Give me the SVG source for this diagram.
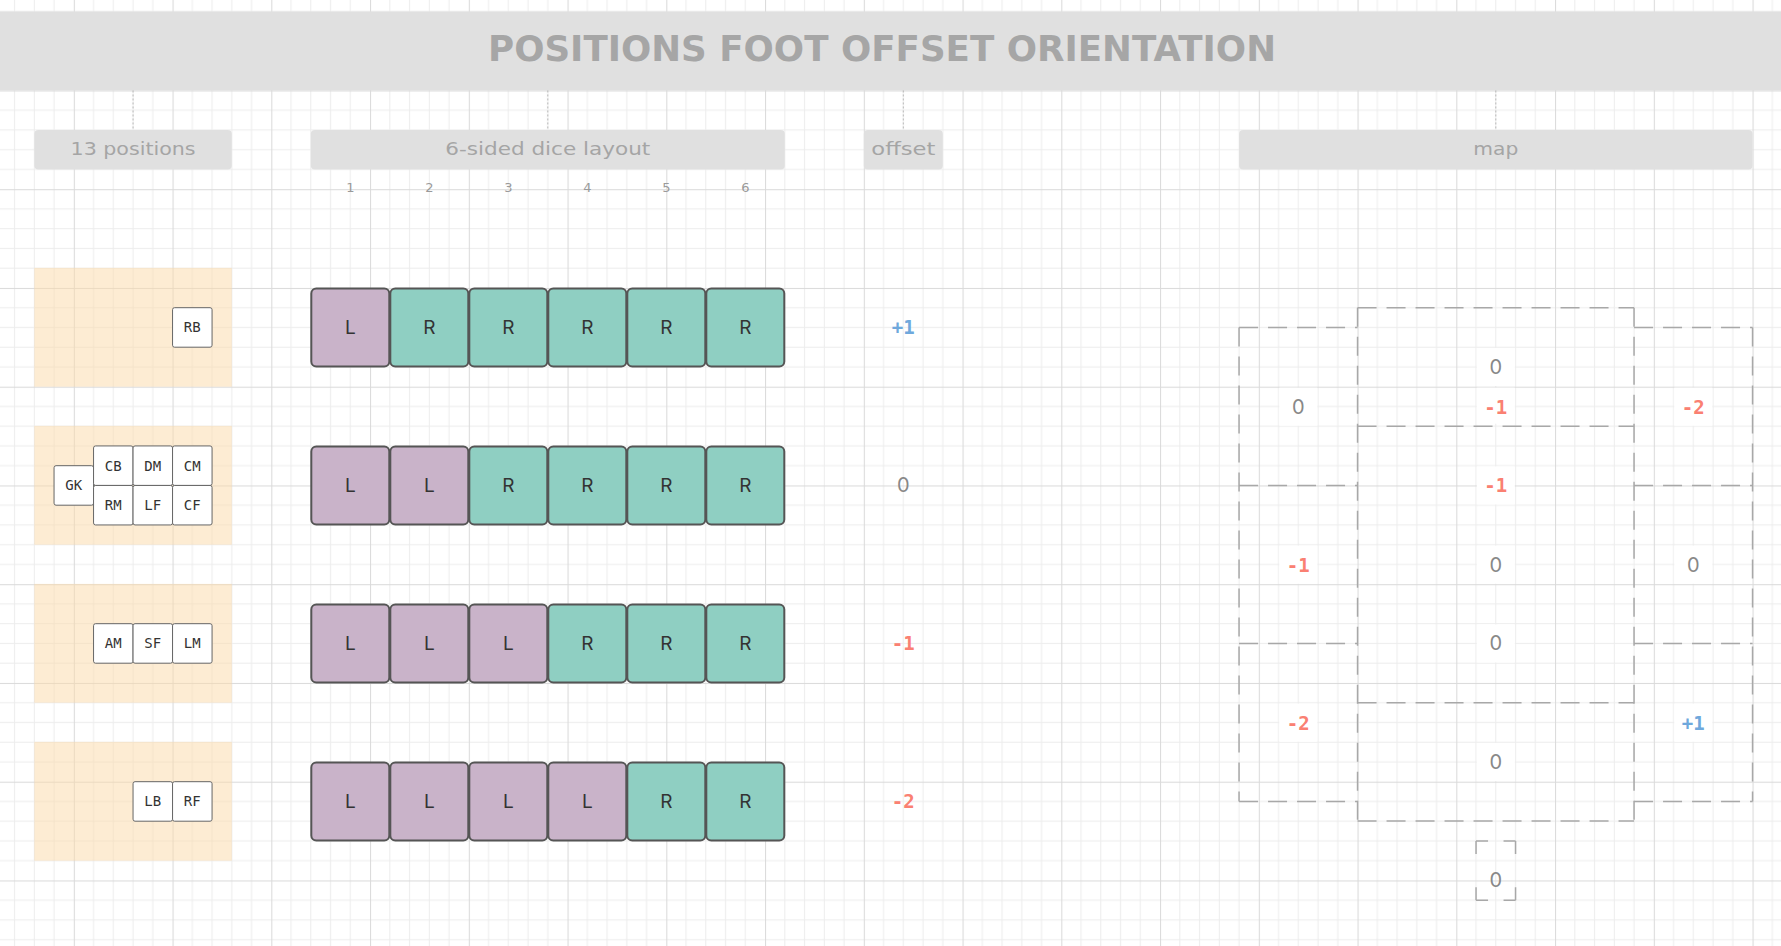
<svg xmlns="http://www.w3.org/2000/svg" width="1781" height="946" viewBox="0 0 1781 946">
<defs>
<pattern id="grid" patternUnits="userSpaceOnUse" x="73.8" y="90.45" width="98.75" height="98.75">
<rect width="98.75" height="98.75" fill="#ffffff"/>
<g fill="#ededed">
<rect x="19.25" y="0" width="1" height="98.75"/><rect x="39" y="0" width="1" height="98.75"/><rect x="58.75" y="0" width="1" height="98.75"/><rect x="78.5" y="0" width="1" height="98.75"/>
<rect y="19.25" x="0" height="1" width="98.75"/><rect y="39" x="0" height="1" width="98.75"/><rect y="58.75" x="0" height="1" width="98.75"/><rect y="78.5" x="0" height="1" width="98.75"/>
</g>
<g fill="#dadada">
<rect x="0" y="0" width="1" height="98.75"/><rect x="0" y="0" width="98.75" height="1"/>
</g>
</pattern>
<style>
.hdr{fill:#e0e0e0}
.hdrt{font-family:"DejaVu Sans",sans-serif;font-size:18px;fill:#a5a5a5}
.colnum{font-family:"DejaVu Sans",sans-serif;font-size:13px;fill:#9a9a9a;text-anchor:middle}
.zone{fill:#fcd9a8;fill-opacity:0.5}
.cell{fill:#ffffff;stroke:#666666;stroke-width:1}
.cellt{font-family:"DejaVu Sans Mono",monospace;font-size:14px;fill:#333333;text-anchor:middle;dominant-baseline:central}
.dl{fill:#c9b3c9;stroke:#555555;stroke-width:2}
.dr{fill:#8fcfc2;stroke:#555555;stroke-width:2}
.dt{font-family:Inter,"Liberation Sans",sans-serif;font-size:19px;fill:#333333;text-anchor:middle;dominant-baseline:central}
.neg{font-family:"DejaVu Sans Mono",monospace;font-weight:bold;font-size:19px;fill:#fa8072;text-anchor:middle;dominant-baseline:central}
.pos{font-family:"DejaVu Sans Mono",monospace;font-weight:bold;font-size:19px;fill:#6fa8dc;text-anchor:middle;dominant-baseline:central}
.zero{font-family:Inter,"Liberation Sans",sans-serif;font-size:20px;fill:#888888;text-anchor:middle;dominant-baseline:central}
.lbg{fill:#ffffff}
.mapline{stroke:#a8a8a8;stroke-width:1.5;stroke-dasharray:19 10;fill:none}
.conn{stroke:#b8b8b8;stroke-width:1;stroke-dasharray:2 2;fill:none}
</style>
</defs>
<rect x="0" y="0" width="1781" height="946" fill="url(#grid)"/>

<g id="title">
<rect x="0" y="11.45" width="1781" height="79" fill="#e0e0e0"/>
<text x="882" y="61" text-anchor="middle" textLength="788" lengthAdjust="spacingAndGlyphs" font-family="'DejaVu Sans',sans-serif" font-weight="bold" font-size="36" fill="#a6a6a6">POSITIONS FOOT OFFSET ORIENTATION</text>
</g>

<g id="connectors">
<line class="conn" x1="133.05" y1="90.45" x2="133.05" y2="129.95"/>
<line class="conn" x1="547.8" y1="90.45" x2="547.8" y2="129.95"/>
<line class="conn" x1="903.3" y1="90.45" x2="903.3" y2="129.95"/>
<line class="conn" x1="1495.8" y1="90.45" x2="1495.8" y2="129.95"/>
</g>

<g id="hdr-positions">
<rect class="hdr" x="34.3" y="129.95" width="197.5" height="39.5" rx="4"/>
<text class="hdrt" x="133.05" y="155" text-anchor="middle" textLength="125" lengthAdjust="spacingAndGlyphs">13 positions</text>
</g>
<g id="hdr-dice">
<rect class="hdr" x="310.8" y="129.95" width="474" height="39.5" rx="4"/>
<text class="hdrt" x="547.8" y="155" text-anchor="middle" textLength="205" lengthAdjust="spacingAndGlyphs">6-sided dice layout</text>
</g>
<g id="hdr-offset">
<rect class="hdr" x="863.8" y="129.95" width="79" height="39.5" rx="4"/>
<text class="hdrt" x="903.3" y="155" text-anchor="middle" textLength="64" lengthAdjust="spacingAndGlyphs">offset</text>
</g>
<g id="hdr-map">
<rect class="hdr" x="1239.05" y="129.95" width="513.5" height="39.5" rx="4"/>
<text class="hdrt" x="1495.8" y="155" text-anchor="middle" textLength="45" lengthAdjust="spacingAndGlyphs">map</text>
</g>

<g id="colnums">
<text class="colnum" x="350.3" y="192">1</text>
<text class="colnum" x="429.3" y="192">2</text>
<text class="colnum" x="508.3" y="192">3</text>
<text class="colnum" x="587.3" y="192">4</text>
<text class="colnum" x="666.3" y="192">5</text>
<text class="colnum" x="745.3" y="192">6</text>
</g>

<g id="zone-1">
<rect class="zone" x="34.3" y="267.9" width="197.5" height="118.8"/>
<rect class="cell" x="172.55" y="307.7" width="39.5" height="39.5" rx="2"/>
<text class="cellt" x="192.3" y="327.45">RB</text>
</g>
<g id="zone-2">
<rect class="zone" x="34.3" y="425.9" width="197.5" height="118.8"/>
<rect class="cell" x="54.05" y="465.7" width="39.5" height="39.5" rx="2"/>
<text class="cellt" x="73.8" y="485.45">GK</text>
<rect class="cell" x="93.55" y="445.95" width="39.5" height="39.5" rx="2"/>
<text class="cellt" x="113.3" y="465.7">CB</text>
<rect class="cell" x="133.05" y="445.95" width="39.5" height="39.5" rx="2"/>
<text class="cellt" x="152.8" y="465.7">DM</text>
<rect class="cell" x="172.55" y="445.95" width="39.5" height="39.5" rx="2"/>
<text class="cellt" x="192.3" y="465.7">CM</text>
<rect class="cell" x="93.55" y="485.45" width="39.5" height="39.5" rx="2"/>
<text class="cellt" x="113.3" y="505.2">RM</text>
<rect class="cell" x="133.05" y="485.45" width="39.5" height="39.5" rx="2"/>
<text class="cellt" x="152.8" y="505.2">LF</text>
<rect class="cell" x="172.55" y="485.45" width="39.5" height="39.5" rx="2"/>
<text class="cellt" x="192.3" y="505.2">CF</text>
</g>
<g id="zone-3">
<rect class="zone" x="34.3" y="583.9" width="197.5" height="118.8"/>
<rect class="cell" x="93.55" y="623.7" width="39.5" height="39.5" rx="2"/>
<text class="cellt" x="113.3" y="643.45">AM</text>
<rect class="cell" x="133.05" y="623.7" width="39.5" height="39.5" rx="2"/>
<text class="cellt" x="152.8" y="643.45">SF</text>
<rect class="cell" x="172.55" y="623.7" width="39.5" height="39.5" rx="2"/>
<text class="cellt" x="192.3" y="643.45">LM</text>
</g>
<g id="zone-4">
<rect class="zone" x="34.3" y="741.9" width="197.5" height="118.8"/>
<rect class="cell" x="133.05" y="781.7" width="39.5" height="39.5" rx="2"/>
<text class="cellt" x="152.8" y="801.45">LB</text>
<rect class="cell" x="172.55" y="781.7" width="39.5" height="39.5" rx="2"/>
<text class="cellt" x="192.3" y="801.45">RF</text>
</g>

<g id="dice-1">
<rect class="dl" x="311.3" y="288.45" width="78" height="78" rx="5"/><text class="dt" x="350.3" y="327.45">L</text>
<rect class="dr" x="390.3" y="288.45" width="78" height="78" rx="5"/><text class="dt" x="429.3" y="327.45">R</text>
<rect class="dr" x="469.3" y="288.45" width="78" height="78" rx="5"/><text class="dt" x="508.3" y="327.45">R</text>
<rect class="dr" x="548.3" y="288.45" width="78" height="78" rx="5"/><text class="dt" x="587.3" y="327.45">R</text>
<rect class="dr" x="627.3" y="288.45" width="78" height="78" rx="5"/><text class="dt" x="666.3" y="327.45">R</text>
<rect class="dr" x="706.3" y="288.45" width="78" height="78" rx="5"/><text class="dt" x="745.3" y="327.45">R</text>
</g>
<g id="dice-2">
<rect class="dl" x="311.3" y="446.45" width="78" height="78" rx="5"/><text class="dt" x="350.3" y="485.45">L</text>
<rect class="dl" x="390.3" y="446.45" width="78" height="78" rx="5"/><text class="dt" x="429.3" y="485.45">L</text>
<rect class="dr" x="469.3" y="446.45" width="78" height="78" rx="5"/><text class="dt" x="508.3" y="485.45">R</text>
<rect class="dr" x="548.3" y="446.45" width="78" height="78" rx="5"/><text class="dt" x="587.3" y="485.45">R</text>
<rect class="dr" x="627.3" y="446.45" width="78" height="78" rx="5"/><text class="dt" x="666.3" y="485.45">R</text>
<rect class="dr" x="706.3" y="446.45" width="78" height="78" rx="5"/><text class="dt" x="745.3" y="485.45">R</text>
</g>
<g id="dice-3">
<rect class="dl" x="311.3" y="604.45" width="78" height="78" rx="5"/><text class="dt" x="350.3" y="643.45">L</text>
<rect class="dl" x="390.3" y="604.45" width="78" height="78" rx="5"/><text class="dt" x="429.3" y="643.45">L</text>
<rect class="dl" x="469.3" y="604.45" width="78" height="78" rx="5"/><text class="dt" x="508.3" y="643.45">L</text>
<rect class="dr" x="548.3" y="604.45" width="78" height="78" rx="5"/><text class="dt" x="587.3" y="643.45">R</text>
<rect class="dr" x="627.3" y="604.45" width="78" height="78" rx="5"/><text class="dt" x="666.3" y="643.45">R</text>
<rect class="dr" x="706.3" y="604.45" width="78" height="78" rx="5"/><text class="dt" x="745.3" y="643.45">R</text>
</g>
<g id="dice-4">
<rect class="dl" x="311.3" y="762.45" width="78" height="78" rx="5"/><text class="dt" x="350.3" y="801.45">L</text>
<rect class="dl" x="390.3" y="762.45" width="78" height="78" rx="5"/><text class="dt" x="429.3" y="801.45">L</text>
<rect class="dl" x="469.3" y="762.45" width="78" height="78" rx="5"/><text class="dt" x="508.3" y="801.45">L</text>
<rect class="dl" x="548.3" y="762.45" width="78" height="78" rx="5"/><text class="dt" x="587.3" y="801.45">L</text>
<rect class="dr" x="627.3" y="762.45" width="78" height="78" rx="5"/><text class="dt" x="666.3" y="801.45">R</text>
<rect class="dr" x="706.3" y="762.45" width="78" height="78" rx="5"/><text class="dt" x="745.3" y="801.45">R</text>
</g>

<g id="offset-1"><text class="pos" x="903.3" y="326.5">+1</text></g>
<g id="offset-2"><text class="zero" x="903.3" y="485.45">0</text></g>
<g id="offset-3"><text class="neg" x="903.3" y="643.45">-1</text></g>
<g id="offset-4"><text class="neg" x="903.3" y="801.45">-2</text></g>

<g id="map">
<line class="mapline" x1="1239.05" y1="327.45" x2="1239.05" y2="801.45"/>
<line class="mapline" x1="1357.55" y1="307.7" x2="1357.55" y2="820.95"/>
<line class="mapline" x1="1634.05" y1="307.7" x2="1634.05" y2="820.95"/>
<line class="mapline" x1="1752.55" y1="327.45" x2="1752.55" y2="801.45"/>
<line class="mapline" x1="1239.05" y1="327.45" x2="1357.55" y2="327.45"/>
<line class="mapline" x1="1634.05" y1="327.45" x2="1752.55" y2="327.45"/>
<line class="mapline" x1="1239.05" y1="801.45" x2="1357.55" y2="801.45"/>
<line class="mapline" x1="1634.05" y1="801.45" x2="1752.55" y2="801.45"/>
<line class="mapline" x1="1239.05" y1="485.45" x2="1357.55" y2="485.45"/>
<line class="mapline" x1="1634.05" y1="485.45" x2="1752.55" y2="485.45"/>
<line class="mapline" x1="1239.05" y1="643.45" x2="1357.55" y2="643.45"/>
<line class="mapline" x1="1634.05" y1="643.45" x2="1752.55" y2="643.45"/>
<line class="mapline" x1="1357.55" y1="307.7" x2="1634.05" y2="307.7"/>
<line class="mapline" x1="1357.55" y1="426.2" x2="1634.05" y2="426.2"/>
<line class="mapline" x1="1357.55" y1="702.7" x2="1634.05" y2="702.7"/>
<line class="mapline" x1="1357.55" y1="820.95" x2="1634.05" y2="820.95"/>
</g>
<g id="goal">
<path class="mapline" style="stroke-dasharray:12 15.5" d="M1476.05 840.95 H1515.55"/>
<path class="mapline" style="stroke-dasharray:12 15.5" d="M1476.05 900.2 H1515.55"/>
<path class="mapline" style="stroke-dasharray:13 33.25 13" d="M1476.05 840.95 V900.2"/>
<path class="mapline" style="stroke-dasharray:13 33.25 13" d="M1515.55 840.95 V900.2"/>
<text class="zero" x="1495.8" y="880">0</text>
</g>

<g id="map-left-top"><rect class="lbg" x="1279.3" y="387.7" width="38" height="38"/><text class="zero" x="1298.3" y="406.7">0</text></g>
<g id="map-left-mid"><rect class="lbg" x="1279.3" y="545.7" width="38" height="38"/><text class="neg" x="1298.3" y="564.7">-1</text></g>
<g id="map-left-bot"><rect class="lbg" x="1279.3" y="703.7" width="38" height="38"/><text class="neg" x="1298.3" y="722.7">-2</text></g>
<g id="map-right-top"><rect class="lbg" x="1674.3" y="387.7" width="38" height="38"/><text class="neg" x="1693.3" y="406.7">-2</text></g>
<g id="map-right-mid"><rect class="lbg" x="1674.3" y="545.7" width="38" height="38"/><text class="zero" x="1693.3" y="564.7">0</text></g>
<g id="map-right-bot"><rect class="lbg" x="1674.3" y="703.7" width="38" height="38"/><text class="pos" x="1693.3" y="722.7">+1</text></g>
<g id="map-center-1"><rect class="lbg" x="1476.8" y="347.95" width="38" height="38"/><text class="zero" x="1495.8" y="366.95">0</text></g>
<g id="map-center-2"><rect class="lbg" x="1476.8" y="387.7" width="38" height="36"/><text class="neg" x="1495.8" y="406.7">-1</text></g>
<g id="map-center-3"><rect class="lbg" x="1476.8" y="466.45" width="38" height="38"/><text class="neg" x="1495.8" y="485.45">-1</text></g>
<g id="map-center-4"><rect class="lbg" x="1476.8" y="545.7" width="38" height="38"/><text class="zero" x="1495.8" y="564.7">0</text></g>
<g id="map-center-5"><rect class="lbg" x="1476.8" y="624.45" width="38" height="38"/><text class="zero" x="1495.8" y="643.45">0</text></g>
<g id="map-center-6"><rect class="lbg" x="1476.8" y="742.95" width="38" height="38"/><text class="zero" x="1495.8" y="761.95">0</text></g>
</svg>
